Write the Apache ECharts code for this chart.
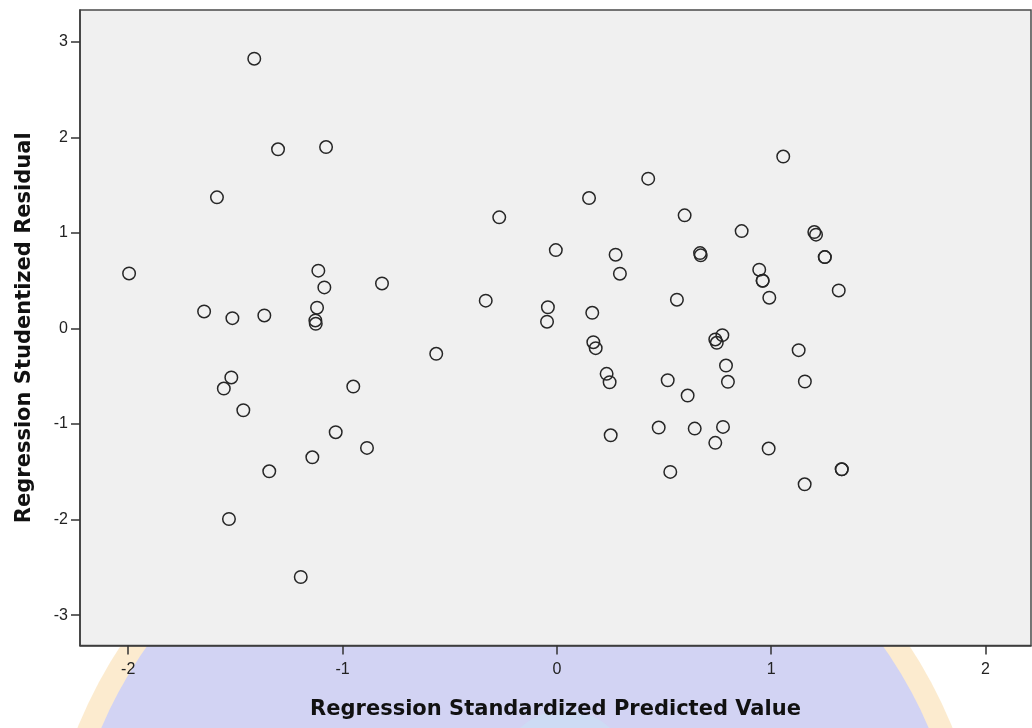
<!DOCTYPE html>
<html>
<head>
<meta charset="utf-8">
<script src="https://cdn.jsdelivr.net/npm/echarts@6/dist/echarts.min.js"></script>
<style>html,body{margin:0;padding:0;background:#fff}#c{width:1032px;height:728px}</style>
</head>
<body>
<div id="c"></div>
<script>
var xTicks = [-2, -1, 0, 1, 2];
var yTicks = [-3, -2, -1, 0, 1, 2, 3];
var xTitle = 'Regression Standardized Predicted Value';
var yTitle = 'Regression Studentized Residual';
var predicted = [
  -1.412, -1.301, -1.077, -1.586, -1.996, -1.113, -1.085, -0.816, -0.269, -0.005,
  -0.332, -0.042, -0.046, -1.119, -1.127, -1.125, -1.646, -1.514, -1.365, -0.563,
  -1.519, -1.554, -1.463, -0.950, -1.032, -0.886, -1.141, -1.342, -1.530, -1.195,
  1.056, 0.426, 0.150, 0.596, 0.862, 1.201, 1.209, 0.274, 0.294, 0.668,
  0.671, 1.250, 1.250, 0.944, 0.960, 0.960, 0.991, 1.315, 0.165, 0.560,
  0.170, 0.181, 0.772, 0.739, 0.746, 1.128, 0.232, 0.246, 0.517, 0.789,
  0.798, 1.157, 0.610, 0.251, 0.475, 0.643, 0.775, 0.739, 0.988, 0.529,
  1.156, 1.329, 1.329
];
var residual = [
  2.823, 1.875, 1.899, 1.372, 0.576, 0.605, 0.430, 0.471, 1.163, 0.820,
  0.291, 0.222, 0.071, 0.217, 0.084, 0.049, 0.178, 0.108, 0.136, -0.265,
  -0.513, -0.629, -0.856, -0.608, -1.086, -1.250, -1.348, -1.495, -1.994, -2.601,
  1.799, 1.568, 1.365, 1.184, 1.019, 1.009, 0.982, 0.772, 0.573, 0.789,
  0.765, 0.747, 0.747, 0.615, 0.500, 0.500, 0.322, 0.398, 0.164, 0.301,
  -0.144, -0.206, -0.070, -0.115, -0.150, -0.227, -0.475, -0.563, -0.542, -0.388,
  -0.558, -0.555, -0.702, -1.118, -1.037, -1.048, -1.030, -1.197, -1.257, -1.501,
  -1.631, -1.474, -1.474
];
var pts = predicted.map(function (x, i) { return [x, residual[i]]; });

var chart = echarts.init(document.getElementById('c'), null, {renderer: 'canvas'});
var font = '"Liberation Sans", Arial, sans-serif';
var titleFont = '"DejaVu Sans", "Liberation Sans", sans-serif';
chart.setOption({
  backgroundColor: '#ffffff',
  animation: false,
  graphic: [
    {type: 'circle', z: -10, silent: true, shape: {cx: 515, cy: 905, r: 472},
     style: {fill: 'rgba(250,222,175,0.6)'}},
    {type: 'circle', z: -9, silent: true, shape: {cx: 515, cy: 905, r: 450},
     style: {fill: '#d2d3f3'}},
    {type: 'circle', z: -8, silent: true, shape: {cx: 565, cy: 775, r: 65},
     style: {fill: 'rgba(200,228,245,0.5)'}}
  ],
  grid: {
    left: 80, top: 10, right: 1, bottom: 82.5,
    show: true, backgroundColor: '#f0f0f0', borderColor: '#4a4a4a', borderWidth: 1.5
  },
  xAxis: {
    type: 'value', min: -2.225, max: 2.212, position: 'bottom',
    name: xTitle, nameLocation: 'middle', nameGap: 54,
    nameTextStyle: {fontFamily: titleFont, fontSize: 21, fontWeight: 'bold', color: '#111'},
    axisLine: {show: true, onZero: false, lineStyle: {color: '#3a3a3a', width: 1.5}},
    axisTick: {show: true, inside: false, customValues: xTicks, length: 9, lineStyle: {color: '#333', width: 1.5}},
    axisLabel: {customValues: xTicks, fontFamily: font, fontSize: 16, color: '#222', margin: 16},
    splitLine: {show: false}
  },
  yAxis: {
    type: 'value', min: -3.318, max: 3.333, position: 'left',
    name: yTitle, nameLocation: 'middle', nameGap: 45, nameRotate: 90,
    nameTextStyle: {fontFamily: titleFont, fontSize: 21, fontWeight: 'bold', color: '#111'},
    axisLine: {show: true, onZero: false, lineStyle: {color: '#3a3a3a', width: 1.5}},
    axisTick: {show: true, inside: false, customValues: yTicks, length: 9, lineStyle: {color: '#333', width: 1.5}},
    axisLabel: {customValues: yTicks, fontFamily: font, fontSize: 16, color: '#222', margin: 12},
    splitLine: {show: false}
  },
  series: [{
    type: 'scatter',
    data: pts,
    symbol: 'circle',
    symbolSize: 12.5,
    itemStyle: {color: 'rgba(0,0,0,0)', borderColor: '#262626', borderWidth: 1.5, opacity: 1},
    emphasis: {disabled: true}
  }]
});
</script>
</body>
</html>
